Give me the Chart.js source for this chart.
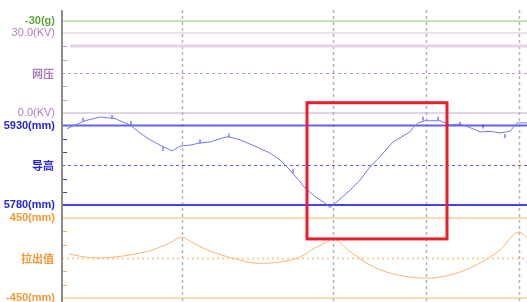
<!DOCTYPE html>
<html lang="zh">
<head>
<meta charset="UTF-8"/>
<title>接触网检测 – 导高 / 拉出值</title>
<script src="https://cdn.jsdelivr.net/npm/chart.js"></script>
<style>
  html, body { margin: 0; padding: 0; background: #fff; }
  canvas { display: block; }
</style>
</head>
<body>
<canvas id="wireChart" width="527" height="302"></canvas>
<script>
// position along the section (m) and measured values
const heightPos = [5, 13, 23, 38, 53, 68, 78, 88, 98, 110, 118, 128, 138, 148, 158, 166, 178, 193, 208, 218,
  228, 238, 243, 253, 263, 268, 275, 288, 298, 308, 318, 331, 348, 351, 356, 363, 378, 388, 398, 408,
  418, 428, 438, 448, 455, 465];
const heightMm = [5924, 5931, 5939, 5946, 5943, 5931, 5916, 5903, 5893, 5882, 5891, 5893, 5897, 5899, 5905, 5909, 5903, 5891, 5878, 5865,
  5846, 5824, 5812, 5796, 5784, 5775, 5786, 5808, 5827, 5852, 5871, 5899, 5918, 5926, 5935, 5939, 5939, 5931, 5933, 5926,
  5918, 5919, 5916, 5919, 5935, 5935];

const spotPos = [21, 50, 69, 101, 138, 167, 231, 361, 376, 398, 421, 443];
const spotMm = [5941, 5946, 5935, 5886, 5900, 5911, 5844, 5943, 5943, 5933, 5928, 5910];

const staggerPos = [7, 23, 38, 58, 78, 88, 98, 108, 120, 128, 138, 158, 178, 196, 218, 238, 253, 263, 271,
  288, 308, 328, 348, 364, 378, 398, 418, 438, 457, 465];
const staggerMm = [45, 11, 0, 17, 56, 79, 124, 169, 236, 191, 129, 39, -23, -60, -45, 11, 113, 169, 214,
  73, -79, -169, -214, -228, -214, -158, -56, 90, 293, 225];

const voltagePos = [8, 465];
const voltageKv = [25.1, 25.1];

const poleLines = [120, 271, 364, 457];
const focus = { from: 245, to: 385, top: 5973, bottom: 5716 };

// panel layout (pixel rows of the reference lines)
const CH_TOP = 10, CH_BOTTOM = 302;
function fit(vTop, pTop, vBot, pBot) {
  const k = (vTop - vBot) / (pBot - pTop);
  return { min: vBot - (CH_BOTTOM - pBot) * k, max: vTop + (pTop - CH_TOP) * k };
}
const gFit = fit(-30, 21, -60, 33);
const vFit = fit(30, 33, 0, 113);
const hFit = fit(5930, 125.5, 5780, 205);
const sFit = fit(450, 218, -450, 298);

const pts = (xs, ys) => xs.map((x, i) => ({ x, y: ys[i] }));

const panels = [
  { id: 'yG', top: -30, topText: '-30(g)', color: '#5aa83c', topLine: '#93c477', bold: true },
  { id: 'yV', top: 30, bottom: 0, topText: '30.0(KV)', bottomText: '0.0(KV)', name: '网压',
    color: '#b27cbc', topLine: '#dcc3de', bottomLine: '#c9a6cb', tick: '#c596c8', mid: '#c39ac6', bold: false },
  { id: 'yH', top: 5930, bottom: 5780, topText: '5930(mm)', bottomText: '5780(mm)', name: '导高',
    color: '#2626dc', topLine: '#6262f0', bottomLine: '#4444e2', tick: '#3a3ae4', mid: '#5a5aee', bold: true, thick: true },
  { id: 'yS', top: 450, bottom: -450, topText: '450(mm)', bottomText: '-450(mm)', name: '拉出值',
    color: '#f39a35', topLine: '#f9b466', bottomLine: '#f9b466', tick: '#f6ae60', mid: '#fbcf9c', bold: true, dotWide: true }
];

const frame = {
  id: 'frame',
  beforeDatasetsDraw(chart) {
    const { ctx, chartArea: a, scales } = chart;
    ctx.save();
    // pole grid lines
    ctx.strokeStyle = '#b4b4b4';
    ctx.lineWidth = 1.5;
    ctx.setLineDash([3, 3]);
    poleLines.forEach(p => {
      const x = Math.round(scales.x.getPixelForValue(p)) + 0.5;
      ctx.beginPath(); ctx.moveTo(x, a.top); ctx.lineTo(x, a.bottom); ctx.stroke();
    });
    ctx.setLineDash([]);

    panels.forEach(p => {
      const s = scales[p.id];
      const yT = s.getPixelForValue(p.top);
      ctx.strokeStyle = p.topLine;
      ctx.lineWidth = p.thick ? 2 : 1.2;
      ctx.beginPath(); ctx.moveTo(a.left, yT); ctx.lineTo(a.right, yT); ctx.stroke();
      ctx.fillStyle = p.color;
      ctx.textAlign = 'right';
      ctx.textBaseline = 'middle';
      ctx.font = (p.bold ? 'bold ' : '') + '11px "Liberation Sans", Arial, sans-serif';
      ctx.fillText(p.topText, 55, yT);
      if (p.bottom === undefined) return;

      const yB = s.getPixelForValue(p.bottom);
      ctx.strokeStyle = p.bottomLine;
      ctx.lineWidth = p.thick ? 2 : 1.2;
      ctx.beginPath(); ctx.moveTo(a.left, yB); ctx.lineTo(a.right, yB); ctx.stroke();
      ctx.fillText(p.bottomText, 55, yB);

      // middle dotted line + name
      const yM = Math.round(s.getPixelForValue((p.top + p.bottom) / 2)) + 0.5;
      ctx.strokeStyle = p.mid;
      ctx.lineWidth = p.dotWide ? 2 : 1;
      ctx.setLineDash(p.dotWide ? [2, 3] : [3, 3]);
      ctx.beginPath(); ctx.moveTo(a.left, yM); ctx.lineTo(a.right, yM); ctx.stroke();
      ctx.setLineDash([]);
      ctx.font = 'bold 11px "Noto Sans CJK SC", sans-serif';
      ctx.fillText(p.name, 54, yM);

      // minor ticks on the axis
      ctx.strokeStyle = p.tick;
      ctx.lineWidth = 1;
      for (let i = 1; i < 6; i++) {
        if (i === 3) continue;
        const y = Math.round(yT + (yB - yT) * i / 6) + 0.5;
        ctx.beginPath(); ctx.moveTo(a.left, y); ctx.lineTo(a.left + 5, y); ctx.stroke();
      }
    });

    // left axis
    ctx.strokeStyle = '#8c8c8c';
    ctx.lineWidth = 2;
    ctx.beginPath(); ctx.moveTo(a.left, a.top); ctx.lineTo(a.left, a.bottom); ctx.stroke();
    ctx.restore();
  },
  afterDatasetsDraw(chart) {
    const { ctx, scales } = chart;
    const x1 = scales.x.getPixelForValue(focus.from), x2 = scales.x.getPixelForValue(focus.to);
    const y1 = scales.yH.getPixelForValue(focus.top), y2 = scales.yH.getPixelForValue(focus.bottom);
    ctx.save();
    ctx.strokeStyle = '#ec1c28';
    ctx.lineWidth = 3;
    ctx.strokeRect(x1, y1, x2 - x1, y2 - y1);
    ctx.restore();
  }
};

const hidden = (f) => ({ type: 'linear', display: false, min: f.min, max: f.max });

new Chart(document.getElementById('wireChart'), {
  type: 'line',
  data: {
    datasets: [
      { data: pts(voltagePos, voltageKv), yAxisID: 'yV', borderColor: '#e8d2e9', borderWidth: 3, pointRadius: 0 },
      { data: pts(heightPos, heightMm), yAxisID: 'yH', borderColor: '#7676f2', borderWidth: 1, pointRadius: 0 },
      { data: pts(spotPos, spotMm), yAxisID: 'yH', showLine: false, pointStyle: 'line', rotation: 90,
        pointRadius: 2, borderColor: '#3c3ce6', borderWidth: 1 },
      { data: pts(staggerPos, staggerMm), yAxisID: 'yS', borderColor: '#f9b574', borderWidth: 1,
        pointRadius: 0, cubicInterpolationMode: 'monotone' }
    ]
  },
  options: {
    responsive: false,
    animation: false,
    events: [],
    layout: { autoPadding: false, padding: { left: 62, top: CH_TOP, right: 0, bottom: 0 } },
    plugins: { legend: { display: false }, tooltip: { enabled: false } },
    scales: {
      x: { type: 'linear', display: false, min: 0, max: 465 },
      yG: hidden(gFit),
      yV: hidden(vFit),
      yH: hidden(hFit),
      yS: hidden(sFit)
    }
  },
  plugins: [frame]
});
</script>
</body>
</html>
